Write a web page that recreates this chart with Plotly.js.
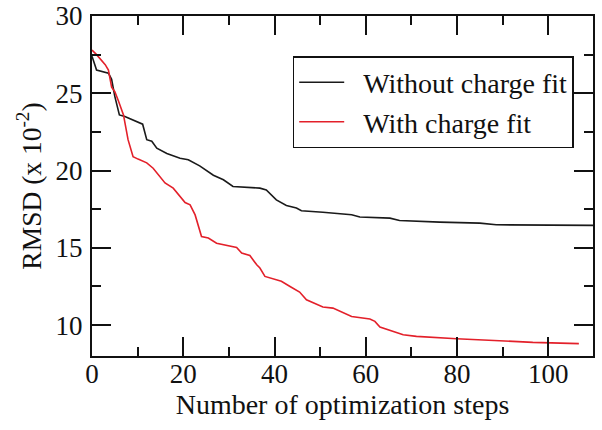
<!DOCTYPE html>
<html>
<head>
<meta charset="utf-8">
<script src="https://cdn.plot.ly/plotly-3.0.1.min.js"></script>
<style>html,body{margin:0;padding:0;background:#fff;}#chart{width:602px;height:430px;}</style>
</head>
<body>
<div id="chart"></div>
<script>
var seriesNames = ["Without charge fit", "With charge fit"];

var withoutX = [0, 1, 3.6, 4.3, 5, 6, 7.2, 9.8, 11.1, 12, 13.1, 14.2, 16.4, 19.3, 21.1, 23.6, 25.5, 26.6, 28.8, 30.9, 36.8, 38.2, 40.4, 42.6, 44.8, 45.9, 50.6, 54.3, 56.9, 58.7, 65.3, 67.4, 76.2, 85, 88.6, 110];
var withoutY = [27.4, 26.5, 26.3, 25.9, 24.8, 23.6, 23.5, 23.2, 23.0, 22.0, 21.9, 21.45, 21.1, 20.8, 20.7, 20.3, 19.9, 19.7, 19.4, 18.97, 18.86, 18.75, 18.1, 17.74, 17.57, 17.4, 17.3, 17.2, 17.14, 16.99, 16.92, 16.77, 16.66, 16.6, 16.49, 16.45];

var withX = [0, 1, 2.9, 3.6, 4.3, 5, 5.8, 6.9, 7.9, 9.0, 10.1, 12, 13.4, 14.9, 16, 17.8, 19.3, 20.4, 21.5, 22.6, 24.0, 25.5, 27.3, 29.5, 31.7, 32.8, 34.6, 36.1, 36.8, 37.9, 39.7, 41.5, 43.4, 45.5, 47, 49.2, 50.6, 52.8, 55, 56.9, 60.9, 62, 63.1, 64.2, 66, 68.2, 71.1, 74.7, 79.9, 89.3, 96.6, 106.7];
var withY = [27.8, 27.5, 26.85, 26.5, 25.4, 25.1, 24.5, 23.6, 22.0, 20.9, 20.74, 20.5, 20.15, 19.6, 19.2, 18.86, 18.3, 17.93, 17.78, 17.13, 15.73, 15.63, 15.3, 15.15, 15.02, 14.66, 14.5, 13.9, 13.69, 13.15, 13.0, 12.83, 12.5, 12.14, 11.64, 11.32, 11.17, 11.1, 10.82, 10.56, 10.39, 10.24, 9.88, 9.77, 9.6, 9.38, 9.27, 9.19, 9.12, 8.99, 8.88, 8.8];

var xTickVals = [0, 20, 40, 60, 80, 100];
var yTickVals = [10, 15, 20, 25, 30];

var serif = "'Liberation Serif', 'Times New Roman', serif";

var traces = [
  {x: withoutX, y: withoutY, name: "\u2002" + seriesNames[0], mode: "lines", line: {color: "#1a1a1a", width: 1.6}},
  {x: withX, y: withY, name: "\u2002" + seriesNames[1], mode: "lines", line: {color: "#e3202a", width: 1.6}}
];

var axisCommon = {
  showgrid: false, zeroline: false, showline: true, linecolor: "#111", linewidth: 2,
  mirror: "ticks", ticks: "inside", ticklen: 19, tickwidth: 2, tickcolor: "#111",
  tickfont: {family: serif, size: 27, color: "#111"}
};

var layout = {
  width: 602, height: 430,
  margin: {l: 92, r: 9, t: 16, b: 74},
  paper_bgcolor: "#fff", plot_bgcolor: "#fff",
  showlegend: true,
  font: {family: serif, color: "#111"},
  xaxis: Object.assign({}, axisCommon, {
    range: [0, 109.8], tickmode: "array", tickvals: xTickVals,
    ticklabelstandoff: -7,
    minor: {dtick: 10, tick0: 0, ticks: "inside", ticklen: 9, tickwidth: 2, tickcolor: "#111", showgrid: false},
    title: {text: "Number of optimization steps", font: {family: serif, size: 28, color: "#111"}, standoff: 0}
  }),
  yaxis: Object.assign({}, axisCommon, {
    range: [8, 30], tickmode: "array", tickvals: yTickVals,
    ticklabelstandoff: 2,
    minor: {dtick: 2.5, tick0: 0, ticks: "inside", ticklen: 9, tickwidth: 2, tickcolor: "#111", showgrid: false},
    title: {text: "RMSD (x 10<sup>-2</sup>)", font: {family: serif, size: 27.5, color: "#111"}, standoff: 6}
  }),
  legend: {
    x: 0.4006, y: 0.882, xanchor: "left", yanchor: "top",
    bordercolor: "#111", borderwidth: 1.5, bgcolor: "#fff",
    font: {family: serif, size: 28, color: "#111"},
    itemwidth: 45,
    tracegroupgap: 0
  }
};

Plotly.newPlot("chart", traces, layout, {staticPlot: true, displayModeBar: false});
</script>
</body>
</html>
